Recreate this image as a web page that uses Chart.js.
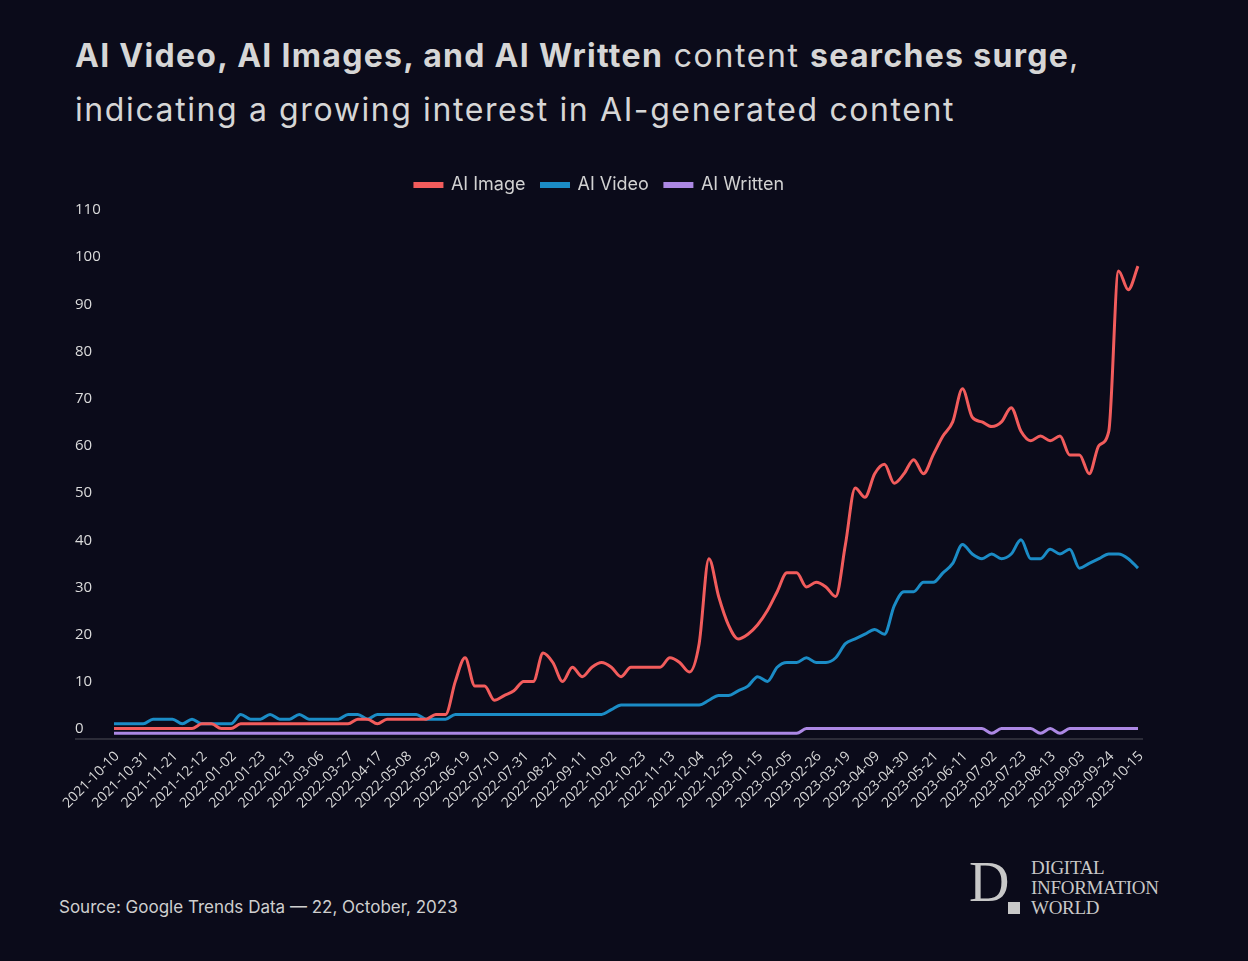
<!DOCTYPE html>
<html lang="en">
<head>
    <meta charset="UTF-8">
    <title>AI content searches</title>
    <script src="https://cdn.jsdelivr.net/npm/chart.js"></script>
    <style>
        body {
            margin: 0;
            width: 1248px;
            height: 961px;
            background-color: #0b0b1a;
            font-family: Inter, "Noto Sans", sans-serif;
            color: #d6d6d6;
            position: relative;
            overflow: hidden;
        }
        .title {
            position: absolute;
            left: 75px;
            top: 29px;
            font-size: 32px;
            line-height: 54px;
            letter-spacing: 1.6px;
            color: #d6d6d6;
            white-space: nowrap;
        }
        .title b { font-weight: 700; letter-spacing: 1.3px; }
        .chart-box {
            position: absolute;
            left: 0;
            top: 150px;
            width: 1248px;
            height: 678px;
        }
        .source {
            position: absolute;
            left: 59px;
            top: 897px;
            font-size: 17px;
            color: #cfcfcf;
        }
        .logo {
            position: absolute;
            left: 968px;
            top: 858px;
            color: #c8c8c8;
            font-family: "Liberation Serif", "DejaVu Serif", serif;
        }
        .logo .d {
            position: absolute;
            left: 1px;
            top: -4px;
            font-size: 56px;
            line-height: 56px;
        }
        .logo .sq {
            position: absolute;
            left: 40px;
            top: 44px;
            width: 12px;
            height: 12px;
            background: #c8c8c8;
        }
        .logo .words {
            position: absolute;
            left: 63px;
            top: 0;
            font-size: 19px;
            line-height: 20px;
            letter-spacing: -0.3px;
            white-space: nowrap;
        }
    </style>
</head>
<body>
<div class="title">
    <b>AI Video, AI Images, and AI Written</b> content <b>searches surge</b>,<br>
    indicating a growing interest in AI-generated content
</div>
<div class="chart-box"><canvas id="trendChart"></canvas></div>
<div class="source">Source: Google Trends Data — 22, October, 2023</div>
<div class="logo">
    <div class="d">D</div>
    <div class="sq"></div>
    <div class="words">DIGITAL<br>INFORMATION<br>WORLD</div>
</div>
<script>
    // weekly categories, 2021-10-10 .. 2023-10-15
    const firstWeek = '2021-10-10';
    const weekCount = 106;
    const weeks = [];
    for (let i = 0; i < weekCount; i++) {
        const d = new Date(firstWeek + 'T00:00:00Z');
        d.setUTCDate(d.getUTCDate() + i * 7);
        weeks.push(d.toISOString().slice(0, 10));
    }

    const aiImage = [
        2, 2, 2, 2, 2, 2, 2, 2, 2, 3, 3, 2, 2, 3, 3, 3, 3, 3, 3, 3,
        3, 3, 3, 3, 3, 4, 4, 3, 4, 4, 4, 4, 4, 5, 5, 12, 17, 11, 11, 8,
        9, 10, 12, 12, 18, 16, 12, 15, 13, 15, 16, 15, 13, 15, 15, 15, 15, 17, 16, 14,
        20, 38, 30, 24, 21, 22, 24, 27, 31, 35, 35, 32, 33, 32, 30, 41, 53, 51, 56, 58,
        54, 56, 59, 56, 60, 64, 67, 74, 68, 67, 66, 67, 70, 65, 63, 64, 63, 64, 60, 60,
        56, 62, 65, 99, 95, 100
    ];
    const aiVideo = [
        3, 3, 3, 3, 4, 4, 4, 3, 4, 3, 3, 3, 3, 5, 4, 4, 5, 4, 4, 5,
        4, 4, 4, 4, 5, 5, 4, 5, 5, 5, 5, 5, 4, 4, 4, 5, 5, 5, 5, 5,
        5, 5, 5, 5, 5, 5, 5, 5, 5, 5, 5, 6, 7, 7, 7, 7, 7, 7, 7, 7,
        7, 8, 9, 9, 10, 11, 13, 12, 15, 16, 16, 17, 16, 16, 17, 20, 21, 22, 23, 22,
        28, 31, 31, 33, 33, 35, 37, 41, 39, 38, 39, 38, 39, 42, 38, 38, 40, 39, 40, 36,
        37, 38, 39, 39, 38, 36
    ];
    const aiWritten = [
        1, 1, 1, 1, 1, 1, 1, 1, 1, 1, 1, 1, 1, 1, 1, 1, 1, 1, 1, 1,
        1, 1, 1, 1, 1, 1, 1, 1, 1, 1, 1, 1, 1, 1, 1, 1, 1, 1, 1, 1,
        1, 1, 1, 1, 1, 1, 1, 1, 1, 1, 1, 1, 1, 1, 1, 1, 1, 1, 1, 1,
        1, 1, 1, 1, 1, 1, 1, 1, 1, 1, 1, 2, 2, 2, 2, 2, 2, 2, 2, 2,
        2, 2, 2, 2, 2, 2, 2, 2, 2, 2, 1, 2, 2, 2, 2, 1, 2, 1, 2, 2,
        2, 2, 2, 2, 2, 2
    ];

    const seriesNames = ['AI Image', 'AI Video', 'AI Written'];
    const seriesColors = ['#f25c5c', '#1b8cc6', '#ac88e4'];

    // legend gap, legend shift and the base line under the plot
    const layoutTweaks = {
        id: 'layoutTweaks',
        beforeInit(chart) {
            const legend = chart.legend;
            if (!legend) return;
            const fit = legend.fit;
            legend.fit = function () {
                fit.call(this);
                this.height += 15;
            };
        },
        afterLayout(chart) {
            chart.legend.left -= 7;
            chart.legend.right -= 7;
        },
        beforeDatasetsDraw(chart) {
            const {ctx, chartArea, scales} = chart;
            const y0 = scales.y.getPixelForValue(0);
            ctx.save();
            ctx.strokeStyle = '#2c2c38';
            ctx.lineWidth = 2;
            ctx.beginPath();
            ctx.moveTo(scales.y.left, y0 + 1);
            ctx.lineTo(chartArea.right + 5, y0 + 1);
            ctx.stroke();
            ctx.restore();
        }
    };

    new Chart(document.getElementById('trendChart'), {
        type: 'line',
        data: {
            labels: weeks,
            datasets: [aiImage, aiVideo, aiWritten].map((values, i) => ({
                label: seriesNames[i],
                data: values,
                borderColor: seriesColors[i],
                backgroundColor: seriesColors[i],
                borderWidth: 3,
                pointRadius: 0,
                cubicInterpolationMode: 'monotone'
            }))
        },
        options: {
            responsive: true,
            maintainAspectRatio: false,
            animation: false,
            layout: {padding: {left: 75, right: 110, top: 10, bottom: 0}},
            plugins: {
                legend: {
                    position: 'top',
                    labels: {
                        boxWidth: 27,
                        boxHeight: 3,
                        padding: 16,
                        color: '#d2d2d2',
                        font: {family: 'Inter', size: 18}
                    }
                },
                tooltip: {enabled: false}
            },
            scales: {
                x: {
                    offset: false,
                    grid: {display: false, drawTicks: false},
                    border: {display: false},
                    afterFit(scale) { scale.height = 90; },
                    ticks: {
                        autoSkip: false,
                        minRotation: 45,
                        maxRotation: 45,
                        padding: 10,
                        labelOffset: 3,
                        color: '#d8d8d8',
                        font: {family: 'Open Sans', size: 14},
                        callback: function (value, index) {
                            return index % 3 === 0 ? this.getLabelForValue(value) : '';
                        }
                    }
                },
                y: {
                    min: 0,
                    max: 110,
                    grid: {display: false, drawTicks: false},
                    border: {display: false},
                    afterFit(scale) { scale.width = 39; },
                    ticks: {
                        stepSize: 10,
                        crossAlign: 'far',
                        labelOffset: -9,
                        color: '#dcdcdc',
                        font: {family: 'Open Sans', size: 15}
                    }
                }
            }
        },
        plugins: [layoutTweaks]
    });
</script>
</body>
</html>
